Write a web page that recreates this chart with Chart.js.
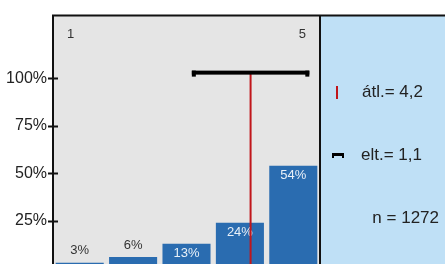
<!DOCTYPE html>
<html>
<head>
<meta charset="utf-8">
<script src="https://cdn.jsdelivr.net/npm/chart.js@4.4.1/dist/chart.umd.min.js"></script>
<style>
html,body{margin:0;padding:0;background:#fff;overflow:hidden;width:445px;height:264px;}
#wrap{position:relative;width:445px;height:284px;}
</style>
</head>
<body>
<div id="wrap"><canvas id="c" width="445" height="284"></canvas></div>
<script>
// ---- data ----
const categories = ['1', '2', '3', '4', '5'];
const percents = [3, 6, 13, 24, 54];
const yTickValues = [25, 50, 75, 100];
const scaleEnds = ['1', '5'];
const meanValue = 4.2;
const sdValue = 1.1;
const nValue = 1272;
const meanLabel = 'átl.= 4,2';
const sdLabel = 'elt.= 1,1';
const nLabel = 'n = 1272';
const sdBarHeight = 103; // percent level where the mean ± sd bar sits

const FONT = '"Liberation Sans", Arial, sans-serif';
const BAR = '#2a6cb0';
const RED = '#c0161b';

const framePlugin = {
  id: 'frame',
  beforeDraw(chart) {
    const {ctx, chartArea: a, width} = chart;
    ctx.save();
    ctx.fillStyle = '#e5e5e5';
    ctx.fillRect(a.left, a.top, a.right - a.left, a.bottom - a.top);
    ctx.fillStyle = '#bfe0f6';
    ctx.fillRect(a.right, a.top, width - a.right, a.bottom - a.top);
    ctx.restore();
  },
  afterDatasetsDraw(chart) {
    const {ctx, chartArea: a, width, scales} = chart;
    const x = scales.x, y = scales.y;
    ctx.save();
    // value labels
    ctx.font = '13px ' + FONT;
    ctx.textAlign = 'center';
    ctx.textBaseline = 'middle';
    percents.forEach((v, i) => {
      const px = x.getPixelForValue(i + 1);
      const py = y.getPixelForValue(v);
      if (v < 10) {
        ctx.fillStyle = '#333';
        ctx.fillText(v + '%', px, py - 12);
      } else {
        ctx.fillStyle = '#e8f0f8';
        ctx.fillText(v + '%', px, py + 10);
      }
    });
    // scale end labels
    ctx.fillStyle = '#333';
    ctx.font = '13px ' + FONT;
    ctx.fillText(scaleEnds[0], x.getPixelForValue(1) - 9, a.top + 19);
    ctx.fillText(scaleEnds[1], x.getPixelForValue(5) + 9, a.top + 19);
    // mean line
    const mx = x.getPixelForValue(meanValue);
    const sy = y.getPixelForValue(sdBarHeight);
    ctx.strokeStyle = RED;
    ctx.lineWidth = 2;
    ctx.beginPath();
    ctx.moveTo(mx, sy);
    ctx.lineTo(mx, y.getPixelForValue(0));
    ctx.stroke();
    // sd bar
    const x1 = x.getPixelForValue(meanValue - sdValue);
    const x2 = x.getPixelForValue(meanValue + sdValue);
    ctx.fillStyle = '#000';
    ctx.fillRect(x1, sy - 2, x2 - x1, 4);
    ctx.fillRect(x1, sy - 2, 4, 6);
    ctx.fillRect(x2 - 4, sy - 2, 4, 6);
    // frame lines
    ctx.strokeStyle = '#111';
    ctx.lineWidth = 2;
    ctx.beginPath();
    ctx.moveTo(a.left, a.bottom + 5);
    ctx.lineTo(a.left, a.top);
    ctx.lineTo(width, a.top);
    ctx.moveTo(a.right, a.top);
    ctx.lineTo(a.right, a.bottom + 5);
    ctx.stroke();
    // y ticks (crossing)
    yTickValues.forEach(v => {
      const py = Math.round(y.getPixelForValue(v)) + 0.5;
      ctx.beginPath();
      ctx.moveTo(a.left - 5, py);
      ctx.lineTo(a.left + 5, py);
      ctx.stroke();
    });
    // right panel legend
    const rx = a.right;
    ctx.strokeStyle = RED;
    ctx.lineWidth = 2;
    ctx.beginPath();
    ctx.moveTo(rx + 17, 86);
    ctx.lineTo(rx + 17, 99);
    ctx.stroke();
    ctx.fillStyle = '#000';
    ctx.fillRect(rx + 12, 153, 12, 3);
    ctx.fillRect(rx + 12, 153, 2, 5);
    ctx.fillRect(rx + 22, 153, 2, 5);
    ctx.fillStyle = '#222';
    ctx.font = '17px ' + FONT;
    ctx.textAlign = 'left';
    ctx.fillText(meanLabel, rx + 42, 92);
    ctx.fillText(sdLabel, rx + 41, 155);
    ctx.textAlign = 'right';
    ctx.fillText(nLabel, width - 6, 218);
    ctx.restore();
  }
};

new Chart(document.getElementById('c'), {
  type: 'bar',
  data: {
    datasets: [{
      data: percents.map((v, i) => ({x: i + 1, y: v})),
      backgroundColor: BAR,
      borderWidth: 0,
      barPercentage: 0.9,
      categoryPercentage: 1.0
    }]
  },
  options: {
    responsive: false,
    animation: false,
    events: [],
    layout: {padding: {left: 0, top: 13, right: 125, bottom: 3}},
    plugins: {legend: {display: false}, tooltip: {enabled: false}},
    scales: {
      x: {
        type: 'linear',
        min: 0.5, max: 5.5,
        display: false,
        offset: false
      },
      y: {
        min: 0, max: 133,
        afterBuildTicks(s) { s.ticks = yTickValues.map(v => ({value: v})); },
        afterFit(s) { s.width = 53; },
        grid: {display: false, drawTicks: false},
        border: {display: false},
        ticks: {
          padding: 6,
          color: '#222',
          font: {family: FONT, size: 16},
          callback: v => v + '%'
        }
      }
    }
  },
  plugins: [framePlugin]
});
</script>
</body>
</html>
